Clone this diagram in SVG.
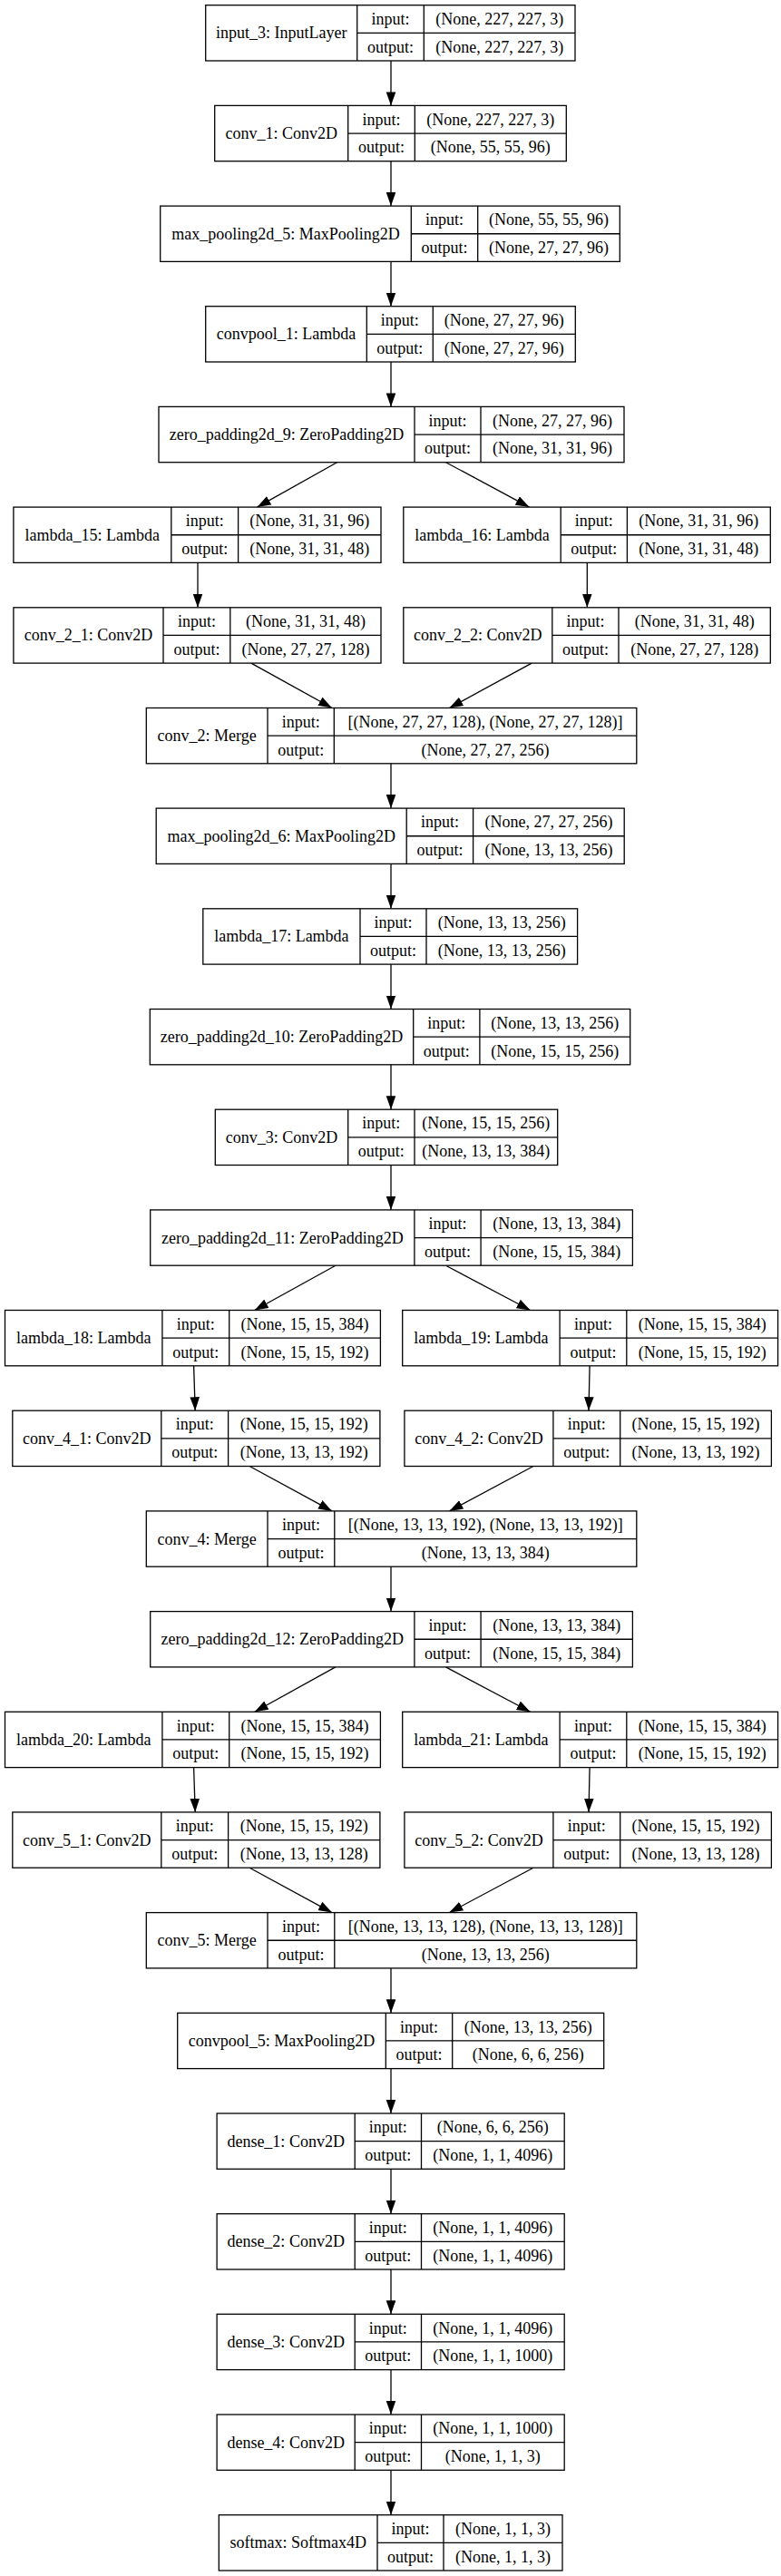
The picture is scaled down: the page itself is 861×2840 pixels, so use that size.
<svg xmlns="http://www.w3.org/2000/svg" width="861" height="2840" viewBox="0 0 861 2840">
<style>
.bg{fill:#ffffff}
.node rect{fill:#ffffff;stroke:#000000;stroke-width:1.3}
.node path{fill:none;stroke:#000000;stroke-width:1.3}
.node text{font-family:"Liberation Serif","Times New Roman",serif;font-size:18px;text-anchor:middle;fill:#000000}
.edges line{stroke:#000000;stroke-width:1.3;marker-end:url(#arr)}
</style>
<defs>
<marker id="arr" markerUnits="userSpaceOnUse" markerWidth="16" markerHeight="11" refX="15" refY="5.3" orient="auto"><path d="M0,0 L15,5.3 L0,10.6 z" fill="#000000"/></marker>
</defs>
<rect class="bg" x="0" y="0" width="861" height="2840"/>

<g id="edges" class="edges">
<line x1="431" y1="67" x2="431" y2="116.4"/>
<line x1="431" y1="177.7" x2="431" y2="227.1"/>
<line x1="431" y1="288.4" x2="431" y2="337.7"/>
<line x1="431" y1="399" x2="431" y2="448.4"/>
<line x1="371.6" y1="509.7" x2="283.5" y2="559.1"/>
<line x1="491.5" y1="509.7" x2="583.5" y2="559.1"/>
<line x1="218" y1="620.4" x2="218" y2="669.8"/>
<line x1="647.3" y1="620.4" x2="647.3" y2="669.8"/>
<line x1="276.9" y1="731.1" x2="366" y2="780.5"/>
<line x1="586.2" y1="731.1" x2="495.4" y2="780.5"/>
<line x1="431" y1="841.8" x2="431" y2="891.1"/>
<line x1="431" y1="952.4" x2="431" y2="1001.8"/>
<line x1="431" y1="1063.1" x2="431" y2="1112.5"/>
<line x1="431" y1="1173.8" x2="431" y2="1223.2"/>
<line x1="431" y1="1284.5" x2="431" y2="1333.9"/>
<line x1="369.9" y1="1395.2" x2="280.7" y2="1444.5"/>
<line x1="491.5" y1="1395.2" x2="584.6" y2="1444.5"/>
<line x1="213.6" y1="1505.8" x2="215.2" y2="1555.2"/>
<line x1="650.1" y1="1505.8" x2="649" y2="1555.2"/>
<line x1="275.2" y1="1616.5" x2="366" y2="1665.9"/>
<line x1="587.9" y1="1616.5" x2="495.4" y2="1665.9"/>
<line x1="431" y1="1727.2" x2="431" y2="1776.6"/>
<line x1="369.9" y1="1837.9" x2="280.7" y2="1887.3"/>
<line x1="491.5" y1="1837.9" x2="584.6" y2="1887.3"/>
<line x1="213.6" y1="1948.6" x2="215.2" y2="1997.9"/>
<line x1="650.1" y1="1948.6" x2="649" y2="1997.9"/>
<line x1="275.2" y1="2059.2" x2="366" y2="2108.6"/>
<line x1="587.9" y1="2059.2" x2="495.4" y2="2108.6"/>
<line x1="431" y1="2169.9" x2="431" y2="2219.3"/>
<line x1="431" y1="2280.6" x2="431" y2="2330"/>
<line x1="431" y1="2391.3" x2="431" y2="2440.7"/>
<line x1="431" y1="2502" x2="431" y2="2551.3"/>
<line x1="431" y1="2612.6" x2="431" y2="2662"/>
<line x1="431" y1="2723.3" x2="431" y2="2772.7"/>
</g>

<g id="input_3" class="node" transform="translate(0,5.7)">
<rect x="226.7" y="0" width="407.3" height="61.3"/>
<path d="M393.7 0V61.3M467.3 0V61.3M393.7 30.65H634"/>
<text x="310.2" y="36.7">input_3: InputLayer</text>
<text x="430.5" y="21.3">input:</text><text x="430.5" y="52">output:</text>
<text x="550.65" y="21.3">(None, 227, 227, 3)</text><text x="550.65" y="52">(None, 227, 227, 3)</text>
</g>

<g id="conv_1" class="node" transform="translate(0,116.4)">
<rect x="236.7" y="0" width="387.6" height="61.3"/>
<path d="M383.7 0V61.3M457.3 0V61.3M383.7 30.65H624.3"/>
<text x="310.2" y="36.7">conv_1: Conv2D</text>
<text x="420.5" y="21.3">input:</text><text x="420.5" y="52">output:</text>
<text x="540.8" y="21.3">(None, 227, 227, 3)</text><text x="540.8" y="52">(None, 55, 55, 96)</text>
</g>

<g id="max_pooling2d_5" class="node" transform="translate(0,227.1)">
<rect x="176.7" y="0" width="506.6" height="61.3"/>
<path d="M453.3 0V61.3M526.7 0V61.3M453.3 30.65H683.3"/>
<text x="315" y="36.7">max_pooling2d_5: MaxPooling2D</text>
<text x="490" y="21.3">input:</text><text x="490" y="52">output:</text>
<text x="605" y="21.3">(None, 55, 55, 96)</text><text x="605" y="52">(None, 27, 27, 96)</text>
</g>

<g id="convpool_1" class="node" transform="translate(0,337.7)">
<rect x="226.7" y="0" width="407.6" height="61.3"/>
<path d="M404.3 0V61.3M477.3 0V61.3M404.3 30.65H634.3"/>
<text x="315.5" y="36.7">convpool_1: Lambda</text>
<text x="440.8" y="21.3">input:</text><text x="440.8" y="52">output:</text>
<text x="555.8" y="21.3">(None, 27, 27, 96)</text><text x="555.8" y="52">(None, 27, 27, 96)</text>
</g>

<g id="zero_padding2d_9" class="node" transform="translate(0,448.4)">
<rect x="175" y="0" width="513" height="61.3"/>
<path d="M457 0V61.3M530 0V61.3M457 30.65H688"/>
<text x="316" y="36.7">zero_padding2d_9: ZeroPadding2D</text>
<text x="493.5" y="21.3">input:</text><text x="493.5" y="52">output:</text>
<text x="609" y="21.3">(None, 27, 27, 96)</text><text x="609" y="52">(None, 31, 31, 96)</text>
</g>

<g id="lambda_15" class="node" transform="translate(0,559.1)">
<rect x="14.9" y="0" width="405.1" height="61.3"/>
<path d="M188.8 0V61.3M262.6 0V61.3M188.8 30.65H420"/>
<text x="101.85" y="36.7">lambda_15: Lambda</text>
<text x="225.7" y="21.3">input:</text><text x="225.7" y="52">output:</text>
<text x="341.3" y="21.3">(None, 31, 31, 96)</text><text x="341.3" y="52">(None, 31, 31, 48)</text>
</g>

<g id="lambda_16" class="node" transform="translate(0,559.1)">
<rect x="444.8" y="0" width="404.5" height="61.3"/>
<path d="M618.2 0V61.3M691.4 0V61.3M618.2 30.65H849.3"/>
<text x="531.5" y="36.7">lambda_16: Lambda</text>
<text x="654.8" y="21.3">input:</text><text x="654.8" y="52">output:</text>
<text x="770.35" y="21.3">(None, 31, 31, 96)</text><text x="770.35" y="52">(None, 31, 31, 48)</text>
</g>

<g id="conv_2_1" class="node" transform="translate(0,669.8)">
<rect x="14.9" y="0" width="405.1" height="61.3"/>
<path d="M180 0V61.3M253.8 0V61.3M180 30.65H420"/>
<text x="97.45" y="36.7">conv_2_1: Conv2D</text>
<text x="216.9" y="21.3">input:</text><text x="216.9" y="52">output:</text>
<text x="336.9" y="21.3">(None, 31, 31, 48)</text><text x="336.9" y="52">(None, 27, 27, 128)</text>
</g>

<g id="conv_2_2" class="node" transform="translate(0,669.8)">
<rect x="444.8" y="0" width="404.5" height="61.3"/>
<path d="M608.8 0V61.3M682 0V61.3M608.8 30.65H849.3"/>
<text x="526.8" y="36.7">conv_2_2: Conv2D</text>
<text x="645.4" y="21.3">input:</text><text x="645.4" y="52">output:</text>
<text x="765.65" y="21.3">(None, 31, 31, 48)</text><text x="765.65" y="52">(None, 27, 27, 128)</text>
</g>

<g id="conv_2" class="node" transform="translate(0,780.5)">
<rect x="161.3" y="0" width="540.5" height="61.3"/>
<path d="M295 0V61.3M368.3 0V61.3M295 30.65H701.8"/>
<text x="228.15" y="36.7">conv_2: Merge</text>
<text x="331.65" y="21.3">input:</text><text x="331.65" y="52">output:</text>
<text x="535.05" y="21.3">[(None, 27, 27, 128), (None, 27, 27, 128)]</text><text x="535.05" y="52">(None, 27, 27, 256)</text>
</g>

<g id="max_pooling2d_6" class="node" transform="translate(0,891.1)">
<rect x="172.2" y="0" width="516" height="61.3"/>
<path d="M448.2 0V61.3M521.6 0V61.3M448.2 30.65H688.2"/>
<text x="310.2" y="36.7">max_pooling2d_6: MaxPooling2D</text>
<text x="484.9" y="21.3">input:</text><text x="484.9" y="52">output:</text>
<text x="604.9" y="21.3">(None, 27, 27, 256)</text><text x="604.9" y="52">(None, 13, 13, 256)</text>
</g>

<g id="lambda_17" class="node" transform="translate(0,1001.8)">
<rect x="223.8" y="0" width="412.8" height="61.3"/>
<path d="M397 0V61.3M470 0V61.3M397 30.65H636.6"/>
<text x="310.4" y="36.7">lambda_17: Lambda</text>
<text x="433.5" y="21.3">input:</text><text x="433.5" y="52">output:</text>
<text x="553.3" y="21.3">(None, 13, 13, 256)</text><text x="553.3" y="52">(None, 13, 13, 256)</text>
</g>

<g id="zero_padding2d_10" class="node" transform="translate(0,1112.5)">
<rect x="165.3" y="0" width="529.4" height="61.3"/>
<path d="M455.7 0V61.3M528.9 0V61.3M455.7 30.65H694.7"/>
<text x="310.5" y="36.7">zero_padding2d_10: ZeroPadding2D</text>
<text x="492.3" y="21.3">input:</text><text x="492.3" y="52">output:</text>
<text x="611.8" y="21.3">(None, 13, 13, 256)</text><text x="611.8" y="52">(None, 15, 15, 256)</text>
</g>

<g id="conv_3" class="node" transform="translate(0,1223.2)">
<rect x="237.3" y="0" width="377.4" height="61.3"/>
<path d="M383.7 0V61.3M457 0V61.3M383.7 30.65H614.7"/>
<text x="310.5" y="36.7">conv_3: Conv2D</text>
<text x="420.35" y="21.3">input:</text><text x="420.35" y="52">output:</text>
<text x="535.85" y="21.3">(None, 15, 15, 256)</text><text x="535.85" y="52">(None, 13, 13, 384)</text>
</g>

<g id="zero_padding2d_11" class="node" transform="translate(0,1333.9)">
<rect x="165.7" y="0" width="531.7" height="61.3"/>
<path d="M456.9 0V61.3M530.1 0V61.3M456.9 30.65H697.4"/>
<text x="311.3" y="36.7">zero_padding2d_11: ZeroPadding2D</text>
<text x="493.5" y="21.3">input:</text><text x="493.5" y="52">output:</text>
<text x="613.75" y="21.3">(None, 13, 13, 384)</text><text x="613.75" y="52">(None, 15, 15, 384)</text>
</g>

<g id="lambda_18" class="node" transform="translate(0,1444.5)">
<rect x="5.5" y="0" width="413.9" height="61.3"/>
<path d="M178.9 0V61.3M252.7 0V61.3M178.9 30.65H419.4"/>
<text x="92.2" y="36.7">lambda_18: Lambda</text>
<text x="215.8" y="21.3">input:</text><text x="215.8" y="52">output:</text>
<text x="336.05" y="21.3">(None, 15, 15, 384)</text><text x="336.05" y="52">(None, 15, 15, 192)</text>
</g>

<g id="lambda_19" class="node" transform="translate(0,1444.5)">
<rect x="443.7" y="0" width="413.9" height="61.3"/>
<path d="M617.1 0V61.3M690.8 0V61.3M617.1 30.65H857.6"/>
<text x="530.4" y="36.7">lambda_19: Lambda</text>
<text x="653.95" y="21.3">input:</text><text x="653.95" y="52">output:</text>
<text x="774.2" y="21.3">(None, 15, 15, 384)</text><text x="774.2" y="52">(None, 15, 15, 192)</text>
</g>

<g id="conv_4_1" class="node" transform="translate(0,1555.2)">
<rect x="13.8" y="0" width="405.1" height="61.3"/>
<path d="M177.8 0V61.3M251.6 0V61.3M177.8 30.65H418.9"/>
<text x="95.8" y="36.7">conv_4_1: Conv2D</text>
<text x="214.7" y="21.3">input:</text><text x="214.7" y="52">output:</text>
<text x="335.25" y="21.3">(None, 15, 15, 192)</text><text x="335.25" y="52">(None, 13, 13, 192)</text>
</g>

<g id="conv_4_2" class="node" transform="translate(0,1555.2)">
<rect x="445.9" y="0" width="404.5" height="61.3"/>
<path d="M609.9 0V61.3M683.7 0V61.3M609.9 30.65H850.4"/>
<text x="527.9" y="36.7">conv_4_2: Conv2D</text>
<text x="646.8" y="21.3">input:</text><text x="646.8" y="52">output:</text>
<text x="767.05" y="21.3">(None, 15, 15, 192)</text><text x="767.05" y="52">(None, 13, 13, 192)</text>
</g>

<g id="conv_4" class="node" transform="translate(0,1665.9)">
<rect x="161.3" y="0" width="540.5" height="61.3"/>
<path d="M295 0V61.3M368.8 0V61.3M295 30.65H701.8"/>
<text x="228.15" y="36.7">conv_4: Merge</text>
<text x="331.9" y="21.3">input:</text><text x="331.9" y="52">output:</text>
<text x="535.3" y="21.3">[(None, 13, 13, 192), (None, 13, 13, 192)]</text><text x="535.3" y="52">(None, 13, 13, 384)</text>
</g>

<g id="zero_padding2d_12" class="node" transform="translate(0,1776.6)">
<rect x="165.7" y="0" width="531.7" height="61.3"/>
<path d="M456.9 0V61.3M530.1 0V61.3M456.9 30.65H697.4"/>
<text x="311.3" y="36.7">zero_padding2d_12: ZeroPadding2D</text>
<text x="493.5" y="21.3">input:</text><text x="493.5" y="52">output:</text>
<text x="613.75" y="21.3">(None, 13, 13, 384)</text><text x="613.75" y="52">(None, 15, 15, 384)</text>
</g>

<g id="lambda_20" class="node" transform="translate(0,1887.3)">
<rect x="5.5" y="0" width="413.9" height="61.3"/>
<path d="M178.9 0V61.3M252.7 0V61.3M178.9 30.65H419.4"/>
<text x="92.2" y="36.7">lambda_20: Lambda</text>
<text x="215.8" y="21.3">input:</text><text x="215.8" y="52">output:</text>
<text x="336.05" y="21.3">(None, 15, 15, 384)</text><text x="336.05" y="52">(None, 15, 15, 192)</text>
</g>

<g id="lambda_21" class="node" transform="translate(0,1887.3)">
<rect x="443.7" y="0" width="413.9" height="61.3"/>
<path d="M617.1 0V61.3M690.8 0V61.3M617.1 30.65H857.6"/>
<text x="530.4" y="36.7">lambda_21: Lambda</text>
<text x="653.95" y="21.3">input:</text><text x="653.95" y="52">output:</text>
<text x="774.2" y="21.3">(None, 15, 15, 384)</text><text x="774.2" y="52">(None, 15, 15, 192)</text>
</g>

<g id="conv_5_1" class="node" transform="translate(0,1997.9)">
<rect x="13.8" y="0" width="405.1" height="61.3"/>
<path d="M177.8 0V61.3M251.6 0V61.3M177.8 30.65H418.9"/>
<text x="95.8" y="36.7">conv_5_1: Conv2D</text>
<text x="214.7" y="21.3">input:</text><text x="214.7" y="52">output:</text>
<text x="335.25" y="21.3">(None, 15, 15, 192)</text><text x="335.25" y="52">(None, 13, 13, 128)</text>
</g>

<g id="conv_5_2" class="node" transform="translate(0,1997.9)">
<rect x="445.9" y="0" width="404.5" height="61.3"/>
<path d="M609.9 0V61.3M683.7 0V61.3M609.9 30.65H850.4"/>
<text x="527.9" y="36.7">conv_5_2: Conv2D</text>
<text x="646.8" y="21.3">input:</text><text x="646.8" y="52">output:</text>
<text x="767.05" y="21.3">(None, 15, 15, 192)</text><text x="767.05" y="52">(None, 13, 13, 128)</text>
</g>

<g id="conv_5" class="node" transform="translate(0,2108.6)">
<rect x="161.3" y="0" width="540.5" height="61.3"/>
<path d="M295 0V61.3M368.8 0V61.3M295 30.65H701.8"/>
<text x="228.15" y="36.7">conv_5: Merge</text>
<text x="331.9" y="21.3">input:</text><text x="331.9" y="52">output:</text>
<text x="535.3" y="21.3">[(None, 13, 13, 128), (None, 13, 13, 128)]</text><text x="535.3" y="52">(None, 13, 13, 256)</text>
</g>

<g id="convpool_5" class="node" transform="translate(0,2219.3)">
<rect x="195.7" y="0" width="470" height="61.3"/>
<path d="M425.3 0V61.3M498.7 0V61.3M425.3 30.65H665.7"/>
<text x="310.5" y="36.7">convpool_5: MaxPooling2D</text>
<text x="462" y="21.3">input:</text><text x="462" y="52">output:</text>
<text x="582.2" y="21.3">(None, 13, 13, 256)</text><text x="582.2" y="52">(None, 6, 6, 256)</text>
</g>

<g id="dense_1" class="node" transform="translate(0,2330)">
<rect x="239.1" y="0" width="383.1" height="61.3"/>
<path d="M391.2 0V61.3M464.5 0V61.3M391.2 30.65H622.2"/>
<text x="315.15" y="36.7">dense_1: Conv2D</text>
<text x="427.85" y="21.3">input:</text><text x="427.85" y="52">output:</text>
<text x="543.35" y="21.3">(None, 6, 6, 256)</text><text x="543.35" y="52">(None, 1, 1, 4096)</text>
</g>

<g id="dense_2" class="node" transform="translate(0,2440.7)">
<rect x="239.1" y="0" width="383.1" height="61.3"/>
<path d="M391.2 0V61.3M464.5 0V61.3M391.2 30.65H622.2"/>
<text x="315.15" y="36.7">dense_2: Conv2D</text>
<text x="427.85" y="21.3">input:</text><text x="427.85" y="52">output:</text>
<text x="543.35" y="21.3">(None, 1, 1, 4096)</text><text x="543.35" y="52">(None, 1, 1, 4096)</text>
</g>

<g id="dense_3" class="node" transform="translate(0,2551.3)">
<rect x="239.1" y="0" width="383.1" height="61.3"/>
<path d="M391.2 0V61.3M464.5 0V61.3M391.2 30.65H622.2"/>
<text x="315.15" y="36.7">dense_3: Conv2D</text>
<text x="427.85" y="21.3">input:</text><text x="427.85" y="52">output:</text>
<text x="543.35" y="21.3">(None, 1, 1, 4096)</text><text x="543.35" y="52">(None, 1, 1, 1000)</text>
</g>

<g id="dense_4" class="node" transform="translate(0,2662)">
<rect x="239.1" y="0" width="383.1" height="61.3"/>
<path d="M391.2 0V61.3M464.5 0V61.3M391.2 30.65H622.2"/>
<text x="315.15" y="36.7">dense_4: Conv2D</text>
<text x="427.85" y="21.3">input:</text><text x="427.85" y="52">output:</text>
<text x="543.35" y="21.3">(None, 1, 1, 1000)</text><text x="543.35" y="52">(None, 1, 1, 3)</text>
</g>

<g id="softmax" class="node" transform="translate(0,2772.7)">
<rect x="241.3" y="0" width="378.7" height="61.3"/>
<path d="M416 0V61.3M489 0V61.3M416 30.65H620"/>
<text x="328.65" y="36.7">softmax: Softmax4D</text>
<text x="452.5" y="21.3">input:</text><text x="452.5" y="52">output:</text>
<text x="554.5" y="21.3">(None, 1, 1, 3)</text><text x="554.5" y="52">(None, 1, 1, 3)</text>
</g>
</svg>
